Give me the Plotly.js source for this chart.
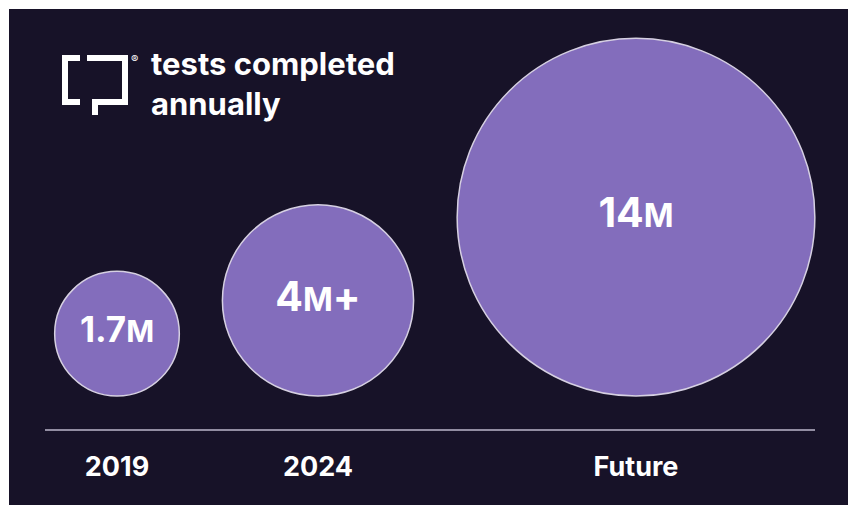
<!DOCTYPE html>
<html>
<head>
<meta charset="utf-8">
<script src="https://cdn.plot.ly/plotly-3.0.1.min.js"></script>
<style>
  html, body { margin: 0; padding: 0; background: #ffffff; }
  #chart { width: 848px; height: 505px; }
</style>
</head>
<body>
<div id="chart"></div>
<script>
// Tests completed annually, in millions
const periods = ['2019', '2024', 'Future'];
const testsMillions = [1.7, 4, 14];
const valueLabels = ['1.7M', '4M+', '14M'];

const W = 848, H = 505;
const M = { l: 9, r: 0, t: 9, b: 0 };
const BASE_ROW = 396;            // screen row the bubbles rest on
// Both axes run in screen pixels: x = column, y = pixels above the bubble baseline
const xRange = [M.l, W - M.r];
const yRange = [BASE_ROW - (H - M.b), BASE_ROW - M.t];
const yOf = r => BASE_ROW - r;
const paperY = r => (H - M.b - r) / (H - M.t - M.b);

const bubbleCenters = [117, 318, 636];       // column of each bubble centre
// bubble area proportional to value: radius = 47.8 * sqrt(value) px
const SIZEREF = 1 / (2 * 47.8 * 47.8);
const radius = v => Math.sqrt(v / (2 * SIZEREF));   // same rule plotly uses for sizemode 'area'

const BG = '#171228';
const BUBBLE = '#836dbc';
const FONT = 'Inter, "Open Sans", sans-serif';

// smaller "M" unit inside each bubble label
const richLabel = (s, unitSize) =>
  s.replace('M', '<span style="font-size:' + unitSize + 'px">M</span>');
const labelSizes = [35, 41, 41];
const unitSizes = [30, 32, 32];

const bubbles = {
  type: 'scatter',
  mode: 'markers+text',
  x: bubbleCenters,
  y: testsMillions.map(radius),
  text: valueLabels.map((s, i) => richLabel(s, unitSizes[i])),
  textposition: 'middle center',
  textfont: { family: FONT, size: labelSizes, color: '#ffffff', weight: 700 },
  marker: {
    size: testsMillions,
    sizemode: 'area',
    sizeref: SIZEREF,
    color: BUBBLE,
    opacity: 1,
    line: { color: '#d6d0e2', width: 1.5 }
  },
  hoverinfo: 'skip',
  cliponaxis: false,
  showlegend: false
};

// logo mark, in screen pixels
const px = (pts) => 'M' + pts.map(p => p[0] + ',' + yOf(p[1])).join(' L') + ' Z';
const logoLeft = px([[80,55],[62,55],[62,105],[80,105],[80,99],[68,99],[68,61],[80,61]]);
const logoRight = px([[87,55],[128,55],[128,105],[98,105],[98,115],[92,115],[92,99],[122,99],[122,61],[87,61]]);

const layout = {
  width: W, height: H,
  margin: M,
  paper_bgcolor: '#ffffff',
  plot_bgcolor: BG,
  font: { family: FONT, color: '#ffffff' },
  title: {
    text: 'tests completed<br>annually',
    font: { family: FONT, size: 31, color: '#ffffff', weight: 700 },
    xref: 'container', x: 151 / W, xanchor: 'left',
    yref: 'container', y: 1 - 75 / H, yanchor: 'top'
  },
  xaxis: {
    range: xRange,
    anchor: 'free', position: paperY(430),
    tickmode: 'array', tickvals: bubbleCenters, ticktext: periods,
    tickfont: { family: FONT, size: 27, color: '#ffffff', weight: 700 },
    ticks: '', ticklabelstandoff: 18,
    showgrid: false, zeroline: false, showline: false, fixedrange: true
  },
  yaxis: {
    range: yRange, visible: false, showgrid: false, zeroline: false, fixedrange: true
  },
  shapes: [
    { type: 'line', xref: 'x', yref: 'y', x0: 45, x1: 815, y0: yOf(430), y1: yOf(430),
      line: { color: '#928da2', width: 2 }, layer: 'below' },
    { type: 'path', xref: 'x', yref: 'y', path: logoLeft, fillcolor: '#ffffff', line: { width: 0 } },
    { type: 'path', xref: 'x', yref: 'y', path: logoRight, fillcolor: '#ffffff', line: { width: 0 } }
  ],
  annotations: [
    { xref: 'x', yref: 'y', x: 134, y: yOf(59), text: '®', showarrow: false,
      font: { family: FONT, size: 11, color: '#ffffff' }, xanchor: 'center', yanchor: 'middle' }
  ]
};

Plotly.newPlot('chart', [bubbles], layout, { staticPlot: true, displayModeBar: false });
</script>
</body>
</html>
